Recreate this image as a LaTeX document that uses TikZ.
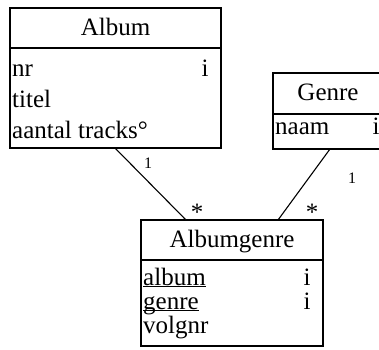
\documentclass[tikz,border=0pt]{standalone}
\usepackage{fontspec}
\setmainfont{Liberation Serif}
\usetikzlibrary{calc}
\newcommand\keyattr[1]{\underline{\smash{#1}}}
\begin{document}
\begin{tikzpicture}[x=1pt,y=-1pt,
  part/.style={draw, line width=1.2pt, inner sep=0pt, outer sep=0pt, anchor=north west},
  label/.style={inner sep=0pt, font=\fontsize{25}{25}\selectfont},
  mult/.style={inner sep=0pt, font=\fontsize{16}{16}\selectfont},
  many/.style={inner sep=0pt, font=\fontsize{25}{25}\selectfont},
  link/.style={line width=1.1pt}]
\useasboundingbox (0,0) rectangle (379,349);

% Album
\node[part, minimum width=211, minimum height=40]  (albumhead) at (10,8)  {};
\node[part, minimum width=211, minimum height=100] (albumbody) at (10,48) {};
\node[label, anchor=base]      (albumname) at (115.5,35) {Album};
\node[label, anchor=base west] (nr)     at (12,76)  {nr};
\node[label, anchor=base west] (titel)  at (12,107) {titel};
\node[label, anchor=base west] (aantal) at (12,138) {aantal tracks°};
\node[label, anchor=base]      (nrid)   at (205,76) {i};

% Genre
\node[part, minimum width=111, minimum height=41] (genrehead) at (273,73)  {};
\node[part, minimum width=111, minimum height=35] (genrebody) at (273,114) {};
\node[label, anchor=base]      (genrename) at (328,100) {Genre};
\node[label, anchor=base west] (naam)   at (275,134) {naam};
\node[label, anchor=base]      (naamid) at (376,134) {i};

% Albumgenre
\node[part, minimum width=182, minimum height=40]  (aghead) at (141,220) {};
\node[part, minimum width=182, minimum height=86]  (agbody) at (141,260) {};
\node[label, anchor=base]      (agname) at (232,247) {Albumgenre};
\node[label, anchor=base west] (agalbum)  at (143,285) {\keyattr{album}};
\node[label, anchor=base west] (aggenre)  at (143,309) {\keyattr{genre}};
\node[label, anchor=base west] (agvolgnr) at (143,333) {volgnr};
\node[label, anchor=base]      (agalbumid) at (307,285) {i};
\node[label, anchor=base]      (aggenreid) at (307,309) {i};

% connector end points on the box edges
\coordinate (albumfoot) at ($(albumbody.south west)+(105,0)$);
\coordinate (genrefoot) at ($(genrebody.south west)+(57,0)$);
\coordinate (agleft)    at ($(aghead.north west)+(45,0)$);
\coordinate (agright)   at ($(aghead.north west)+(137,0)$);

\draw[link] (albumfoot) -- (agleft);
\draw[link] (genrefoot) -- (agright);

% multiplicities
\node[mult] (m1) at (148,163) {1};
\node[mult] (m2) at (352,178) {1};
\node[many, anchor=base] (s1) at (197,220) {*};
\node[many, anchor=base] (s2) at (312,220) {*};
\end{tikzpicture}
\end{document}
